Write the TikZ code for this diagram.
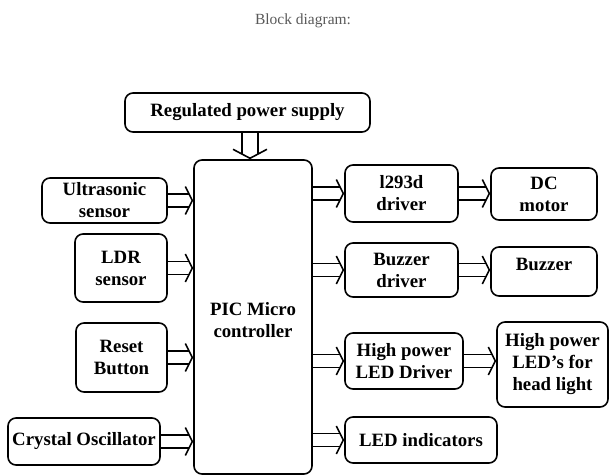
\documentclass[tikz,border=0pt]{standalone}
\usepackage{fontspec}
\setmainfont{Liberation Serif}
\usetikzlibrary{arrows.meta,calc}
% #1 half gap, #2 shorten, #3 tip style, #4 start, #5 end
\newcommand\darr[5]{%
  \coordinate (tmpE) at ($(#5)!#2!(#4)$);
  \draw[sline] ($(#4)!#1!90:(#5)$) -- ($(tmpE)!#1!-90:(#4)$);
  \draw[sline] ($(#4)!#1!-90:(#5)$) -- ($(tmpE)!#1!90:(#4)$);
  \draw[#3] ($(#5)!0.6pt!(#4)$) -- (#5);
}
\newcommand\harr[2]{\darr{6.5pt}{4.3pt}{dtip}{#1}{#2}}
\begin{document}
\begin{tikzpicture}[x=1pt,y=-1pt,
  blk/.style={draw=black, line width=1.6pt, rounded corners=8pt, align=center,
    inner sep=0pt, font=\fontsize{18.8}{22}\selectfont\bfseries},
  sline/.style={draw=black, line width=1.6pt},
  dtip/.style={draw=black, line width=1.6pt,
    -{Straight Barb[length=7pt, width=28pt, line width=1.6pt]}},
  vtip/.style={draw=black, line width=1.6pt,
    -{Straight Barb[length=9pt, width=34pt, line width=1.6pt]}},
]
\useasboundingbox (0,0) rectangle (611,476);
\node[font=\fontsize{15.5}{18}\selectfont, text=black!65] (title) at (303,21) {Block diagram:};

\node[blk, minimum width=245pt, minimum height=39pt] (pow) at (247.5,112.5) {Regulated power supply};
\node[blk, minimum width=118pt, minimum height=314pt] (pic) at (253,317)
  {\raisebox{-9pt}[0pt][0pt]{\begin{tabular}{@{}c@{}}PIC Micro\\controller\end{tabular}}};

\node[blk, minimum width=125pt, minimum height=45pt] (us) at (104.5,200.5) {Ultrasonic\\sensor};
\node[blk, minimum width=92pt, minimum height=68pt] (ldr) at (121,268) {LDR\\sensor};
\node[blk, minimum width=91pt, minimum height=69pt] (rst) at (121.5,357.5) {Reset\\Button};
\node[blk, minimum width=152pt, minimum height=47pt] (xtal) at (84,441.5) {Crystal Oscillator};

\node[blk, minimum width=113pt, minimum height=57pt] (drv) at (401.5,193.5) {l293d\\driver};
\node[blk, minimum width=106pt, minimum height=52pt] (dc) at (544,194) {DC\\motor};
\node[blk, minimum width=113pt, minimum height=54pt] (bzd) at (401.5,270) {Buzzer\\driver};
\node[blk, minimum width=106pt, minimum height=49pt] (bz) at (544,271.5) {\raisebox{6pt}[0.7em][0.2em]{Buzzer}};
\node[blk, minimum width=118pt, minimum height=56pt] (hpd) at (404,361) {High power\\LED Driver};
\node[blk, minimum width=111pt, minimum height=85pt] (hpl) at (552.5,364.5) {High power\\LED's for\\head light};
\node[blk, minimum width=152pt, minimum height=46pt] (ledi) at (421,440) {LED indicators};

\coordinate (powx) at (250,0);
\coordinate (powS) at (pow.south -| powx);
\coordinate (picN) at (pic.north -| powx);
\coordinate (usE) at (us.east -| pic.west);
\coordinate (ldrE) at (ldr.east -| pic.west);
\coordinate (rstE) at (rst.east -| pic.west);
\coordinate (xtalE) at (xtal.east -| pic.west);
\coordinate (drvS) at (drv.west -| pic.east);
\coordinate (bzdS) at (bzd.west -| pic.east);
\coordinate (hpdS) at (hpd.west -| pic.east);
\coordinate (lediS) at (ledi.west -| pic.east);
\coordinate (dcW) at (dc.west |- drv.east);
\coordinate (bzW) at (bz.west |- bzd.east);
\coordinate (hplW) at (hpl.west |- hpd.east);

\darr{8pt}{5pt}{vtip}{powS}{picN}

\harr{us.east}{usE}
\harr{ldr.east}{ldrE}
\harr{rst.east}{rstE}
\harr{xtal.east}{xtalE}

\harr{drvS}{drv.west}
\harr{bzdS}{bzd.west}
\harr{hpdS}{hpd.west}
\harr{lediS}{ledi.west}

\harr{drv.east}{dcW}
\harr{bzd.east}{bzW}
\harr{hpd.east}{hplW}
\end{tikzpicture}
\end{document}
